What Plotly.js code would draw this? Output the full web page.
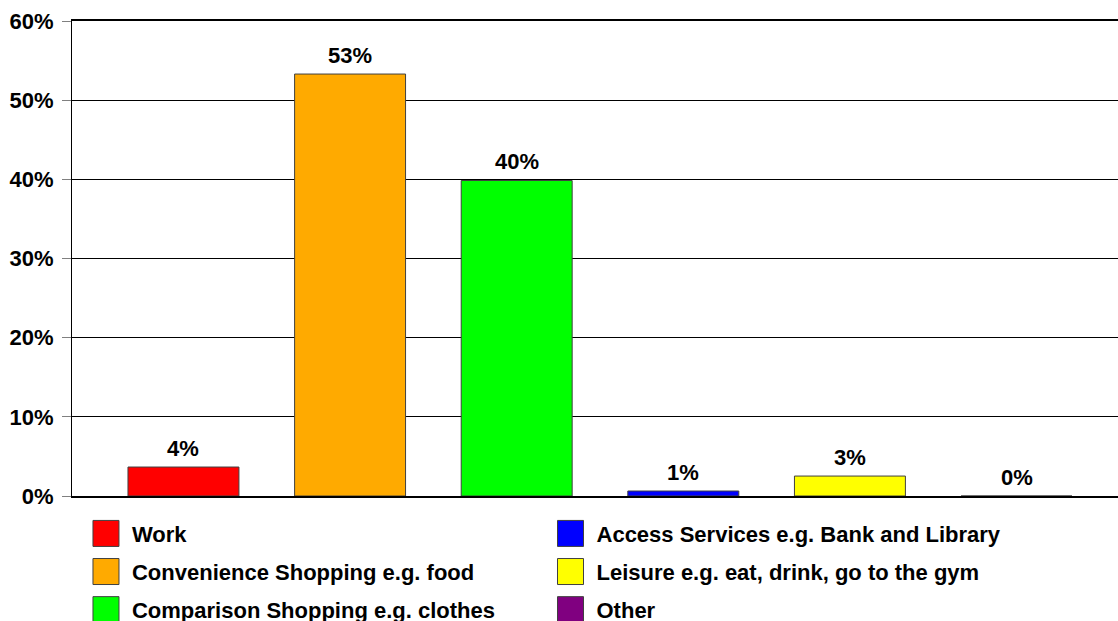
<!DOCTYPE html>
<html>
<head>
<meta charset="utf-8">
<script src="https://cdn.plot.ly/plotly-3.0.1.min.js"></script>
<style>html,body{margin:0;padding:0;background:#fff;}#chart{width:1118px;height:621px;}</style>
</head>
<body>
<div id="chart"></div>
<script>
// ---- data ----
var categories = [
  "Work",
  "Convenience Shopping e.g. food",
  "Comparison Shopping e.g. clothes",
  "Access Services e.g. Bank and Library",
  "Leisure e.g. eat, drink, go to the gym",
  "Other"
];
var shares = [0.0366, 0.533, 0.3985, 0.0063, 0.0252, 0.0];
var colors = ["#FF0000", "#FFAA00", "#00FF00", "#0000FF", "#FFFF00", "#800080"];
var legendIds = ["legend", "legend", "legend", "legend2", "legend2", "legend2"];
var yTicks = [0, 0.1, 0.2, 0.3, 0.4, 0.5, 0.6];

var FONT = "Liberation Sans, Arial, Helvetica, sans-serif";
var FSIZE = 22;

var traces = categories.map(function (c, i) {
  return {
    type: "bar",
    name: c,
    x: [c],
    y: [shares[i]],
    width: 0.666,
    marker: { color: colors[i], line: { color: "#404040", width: 1 } },
    legend: legendIds[i],
    legendgroup: c,
    hoverinfo: "x+y"
  };
});

var annotations = categories.map(function (c, i) {
  return {
    x: c, y: shares[i], xref: "x", yref: "y",
    text: Math.round(shares[i] * 100) + "%",
    showarrow: false, yanchor: "middle", yshift: 19,
    font: { family: FONT, size: FSIZE, weight: "bold", color: "#000" }
  };
});

var legendFont = { family: FONT, size: FSIZE, weight: "bold", color: "#000" };

var layout = {
  width: 1118, height: 621,
  margin: { l: 72, r: 0, t: 21, b: 125, pad: 0, autoexpand: false },
  paper_bgcolor: "#fff", plot_bgcolor: "#fff",
  barmode: "overlay",
  showlegend: true,
  xaxis: {
    type: "category",
    categoryorder: "array", categoryarray: categories,
    range: [-0.669, 5.609],
    showticklabels: false, ticks: "",
    showgrid: false, zeroline: false,
    showline: true, linecolor: "#000", linewidth: 2, mirror: true,
    fixedrange: true, automargin: false
  },
  yaxis: {
    range: [0, 0.6],
    tickvals: yTicks,
    tickformat: ".0%",
    ticks: "outside", ticklen: 9, tickcolor: "#808080", tickwidth: 1,
    ticklabelstandoff: 4,
    tickfont: { family: FONT, size: FSIZE, weight: "bold", color: "#000" },
    showgrid: true, gridcolor: "#000", gridwidth: 1,
    zeroline: false,
    showline: true, linecolor: "#000", linewidth: 1,
    fixedrange: true, automargin: false
  },
  legend: {
    x: 0.0191, y: -0.035, xanchor: "left", yanchor: "top",
    orientation: "v", traceorder: "grouped", tracegroupgap: 6.5,
    font: legendFont, bgcolor: "rgba(0,0,0,0)", borderwidth: 0
  },
  legend2: {
    x: 0.4632, y: -0.035, xanchor: "left", yanchor: "top",
    orientation: "v", traceorder: "grouped", tracegroupgap: 6.5,
    font: legendFont, bgcolor: "rgba(0,0,0,0)", borderwidth: 0
  },
  annotations: annotations
};

Plotly.newPlot("chart", traces, layout, { displayModeBar: false, staticPlot: true }).then(function (gd) {
  var paths = gd.querySelectorAll(".legendpoints path");
  paths.forEach(function (p) {
    p.setAttribute("d", "M7,13H-19V-13H7Z");
  });
});
</script>
</body>
</html>
